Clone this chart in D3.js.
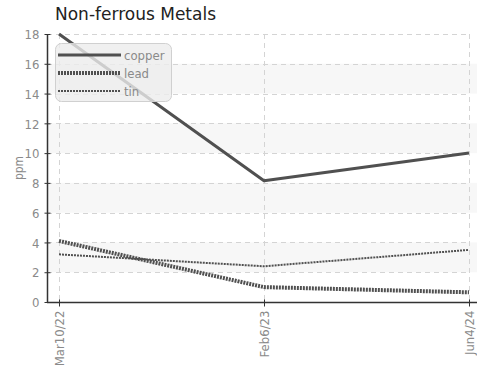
<!DOCTYPE html>
<html>
<head>
<meta charset="utf-8">
<script src="https://cdn.jsdelivr.net/npm/d3@7"></script>
<style>
  html, body { margin: 0; padding: 0; background: #fff; }
  svg { display: block; }
  .tick-label { font-family: "Liberation Sans Narrow", "DejaVu Sans Condensed", "Roboto", sans-serif; fill: #8a8a8a; }
</style>
</head>
<body>
<div id="chart"></div>
<script>
// Sample dates and measured concentrations (ppm)
const dates = ["Mar10/22", "Feb6/23", "Jun4/24"];
const copper = [18, 8.15, 10];
const lead = [4.1, 1.0, 0.65];
const tin = [3.2, 2.4, 3.5];
const yTicks = [0, 2, 4, 6, 8, 10, 12, 14, 16, 18];

const series = [
  { name: "copper", values: copper, width: 3, dash: null },
  { name: "lead", values: lead, width: 4, dash: "2,1" },
  { name: "tin", values: tin, width: 2, dash: "2,1" }
];

const W = 477, H = 367;
const plotLeft = 47, plotTop = 34, plotBottom = 302, lastX = 469, firstX = 59;

const svg = d3.select("#chart").append("svg").attr("width", W).attr("height", H);

const x = d3.scalePoint().domain(dates).range([firstX, lastX]);
const y = d3.scaleLinear().domain([0, 18]).range([plotBottom, plotTop]);

// alternating bands
const bands = [[2, 4], [6, 8], [10, 12], [14, 16]];
svg.append("g").selectAll("rect").data(bands).join("rect")
  .attr("x", plotLeft).attr("width", W - plotLeft)
  .attr("y", d => y(d[1])).attr("height", d => y(d[0]) - y(d[1]))
  .attr("fill", "#f7f7f7");

// grid lines
const grid = svg.append("g").attr("stroke", "#d4d4d4").attr("stroke-dasharray", "5,4").attr("stroke-width", 1);
grid.selectAll(".h").data(yTicks.filter(t => t > 0)).join("line").attr("class", "h")
  .attr("x1", plotLeft).attr("x2", lastX)
  .attr("y1", d => Math.round(y(d)) + 0.5).attr("y2", d => Math.round(y(d)) + 0.5);
grid.selectAll(".v").data(dates).join("line").attr("class", "v")
  .attr("x1", d => Math.round(x(d)) + 0.5).attr("x2", d => Math.round(x(d)) + 0.5)
  .attr("y1", plotTop).attr("y2", plotBottom);

// axes
const yAxis = svg.append("g").attr("transform", `translate(${plotLeft + 0.5},0)`)
  .call(d3.axisLeft(y).tickValues(yTicks).tickSize(4).tickPadding(4));
yAxis.select(".domain").attr("d", `M0,${plotTop}V${plotBottom + 0.5}`).attr("stroke", "#333").attr("stroke-width", 1.5);
yAxis.selectAll(".tick line").attr("x2", 3).attr("x1", -3).attr("stroke", "#333");
yAxis.selectAll(".tick text").attr("class", "tick-label").attr("font-size", 13).attr("dy", "0.36em");

const xAxis = svg.append("g").attr("transform", `translate(0,${plotBottom + 0.5})`)
  .call(d3.axisBottom(x).tickSize(4));
xAxis.select(".domain").attr("d", `M${plotLeft},0H${W}`).attr("stroke", "#333").attr("stroke-width", 1.5);
xAxis.selectAll(".tick line").attr("y1", -3).attr("y2", 4).attr("stroke", "#333");
xAxis.selectAll(".tick text").attr("class", "tick-label").attr("font-size", 13)
  .attr("transform", "rotate(-90)").attr("text-anchor", "end")
  .attr("x", -8).attr("y", 0).attr("dy", "0.36em");

// y axis title
svg.append("text").attr("transform", "translate(23,168) rotate(-90)")
  .attr("text-anchor", "middle").attr("class", "tick-label").attr("font-size", 12).text("ppm");

// series lines
const line = d3.line().x((d, i) => x(dates[i])).y(d => y(d));
svg.append("g").selectAll("path").data(series).join("path")
  .attr("d", d => line(d.values))
  .attr("fill", "none").attr("stroke", "#505050")
  .attr("stroke-width", d => d.width)
  .attr("stroke-dasharray", d => d.dash)
  .attr("stroke-linejoin", "round");

// legend
const lg = svg.append("g");
lg.append("rect").attr("x", 55.5).attr("y", 43.5).attr("width", 116).attr("height", 58).attr("rx", 6)
  .attr("fill", "rgba(236,236,236,0.8)").attr("stroke", "#d0d0d0");
const ly = d3.scalePoint().domain(series.map(s => s.name)).range([55, 91]);
const items = lg.selectAll("g").data(series).join("g").attr("transform", d => `translate(0,${ly(d.name)})`);
items.append("line").attr("x1", 58).attr("x2", 121)
  .attr("stroke", "#505050").attr("stroke-width", d => d.width).attr("stroke-dasharray", d => d.dash);
items.append("text").attr("x", 124).attr("dy", "0.36em").attr("class", "tick-label").attr("font-size", 13).text(d => d.name);

// title
svg.append("text").attr("x", 55).attr("y", 20)
  .attr("font-family", "DejaVu Sans, sans-serif").attr("font-size", 17).attr("fill", "#222")
  .text("Non-ferrous Metals");
</script>
</body>
</html>
